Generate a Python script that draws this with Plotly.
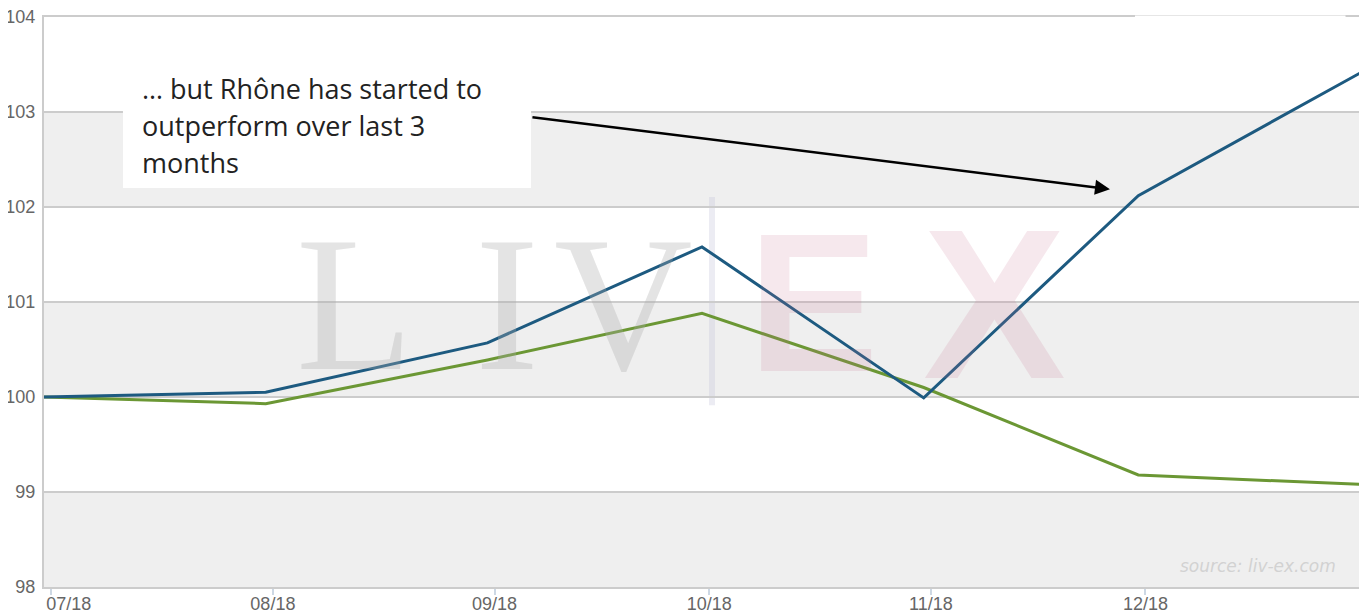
import plotly.graph_objects as go

# month-end index values (Jun 2018 = 100)
dates = ["2018-06-30", "2018-07-31", "2018-08-31", "2018-09-30",
         "2018-10-31", "2018-11-30", "2018-12-31"]
rhone = [100.0, 100.05, 100.57, 101.58, 99.99, 102.12, 103.41]
other = [100.0, 99.93, 100.39, 100.88, 100.10, 99.18, 99.08]

tick_dates = ["2018-07-01", "2018-08-01", "2018-09-01",
              "2018-10-01", "2018-11-01", "2018-12-01"]
tick_labels = ["07/18", "08/18", "09/18", "10/18", "11/18", "12/18"]
y_ticks = [98, 99, 100, 101, 102, 103, 104]
grey_bands = [(98, 99), (100, 101), (102, 103)]

note_lines = ["… but Rhône has started to", "outperform over last 3", "months"]
source_text = "source: liv-ex.com"

fig = go.Figure()

fig.add_trace(go.Scatter(
    x=dates, y=other, mode="lines", name="Other",
    line=dict(color="#6b9734", width=3),
))
fig.add_trace(go.Scatter(
    x=dates, y=rhone, mode="lines", name="Rhône",
    line=dict(color="#1d5a80", width=3),
))

for lo, hi in grey_bands:
    fig.add_shape(type="rect", xref="paper", x0=0, x1=1, y0=lo, y1=hi,
                  fillcolor="#efefef", line=dict(width=0), layer="below")

# watermark "LIV | EX"
for letter, xc in zip("LIV", [0.236, 0.352, 0.440]):
    fig.add_annotation(xref="paper", yref="paper", x=xc, y=0.495,
                       xanchor="center", yanchor="middle",
                       text=letter, showarrow=False,
                       font=dict(family="Liberation Serif", size=192,
                                 color="rgba(170,170,170,0.32)"))
for letter, xc, sz in zip("EX", [0.585, 0.722], [196, 214]):
    fig.add_annotation(xref="paper", yref="paper", x=xc, y=0.497,
                       xanchor="center", yanchor="middle",
                       text="<b>%s</b>" % letter, showarrow=False,
                       font=dict(family="Liberation Sans", size=sz,
                                 color="rgba(200,110,145,0.16)"))
fig.add_shape(type="line", xref="paper", yref="paper",
              x0=0.5076, x1=0.5076, y0=0.319, y1=0.684,
              line=dict(color="rgba(200,200,220,0.35)", width=6), layer="below")

# gap in the top frame (hidden logo area)
fig.add_shape(type="line", xref="paper", yref="paper",
              x0=0.829, x1=0.989, y0=1, y1=1,
              line=dict(color="#ffffff", width=3), layer="above")

# callout box and arrow
fig.add_shape(type="rect", xref="paper", yref="paper",
              x0=0.0600, x1=0.3701, y0=0.700, y1=0.9105,
              fillcolor="#ffffff", line=dict(width=0), layer="above")
for line_text, yc in zip(note_lines, [0.8754, 0.8105, 0.7456]):
    fig.add_annotation(xref="paper", yref="paper", x=0.0729, y=yc,
                       xanchor="left", yanchor="middle", align="left",
                       text=line_text, showarrow=False,
                       font=dict(family="Open Sans", size=27, color="#222222"))
fig.add_annotation(xref="x domain", yref="y domain", x=0.81, y=0.698,
                   axref="x domain", ayref="y domain", ax=0.370, ay=0.8246,
                   text="", showarrow=True, arrowhead=2, arrowsize=1.2,
                   arrowwidth=2.5, arrowcolor="#000000")

fig.add_annotation(xref="paper", yref="paper", x=0.983, y=0.037,
                   xanchor="right", yanchor="middle", text=source_text,
                   showarrow=False,
                   font=dict(family="DejaVu Sans", size=17, color="#d2d2d2", style="italic"))

tick_font = dict(family="Liberation Sans, Arial", size=18, color="#666666")

# first month label is nudged right so it stays inside the chart, as in the source
x_ticktext = ["\u00a0" * 7 + tick_labels[0]] + tick_labels[1:]

# the page adds an 8px body margin, so the figure is sized to fit the window
fig.update_layout(
    width=1359, height=604,
    margin=dict(l=36, r=7, t=9, b=25),
    paper_bgcolor="#ffffff", plot_bgcolor="#ffffff",
    showlegend=False,
    xaxis=dict(
        range=["2018-06-30", "2018-12-31"],
        tickvals=tick_dates, ticktext=x_ticktext,
        ticks="outside", ticklen=6, tickwidth=2, tickcolor="#cdd8e4",
        ticklabelstandoff=-7, ticklabeloverflow="allow",
        showgrid=False, zeroline=False, automargin=False,
        showline=True, linecolor="#cccccc", linewidth=2, mirror=True,
        tickfont=tick_font,
    ),
    yaxis=dict(
        range=[98, 104], tickvals=y_ticks,
        showgrid=True, gridcolor="#cccccc", gridwidth=2,
        zeroline=False, automargin=False,
        showline=True, linecolor="#cccccc", linewidth=2, mirror=True,
        tickfont=tick_font, ticks="", ticklabelstandoff=3,
        ticklabeloverflow="allow",
    ),
)

fig.write_html("out.html")
